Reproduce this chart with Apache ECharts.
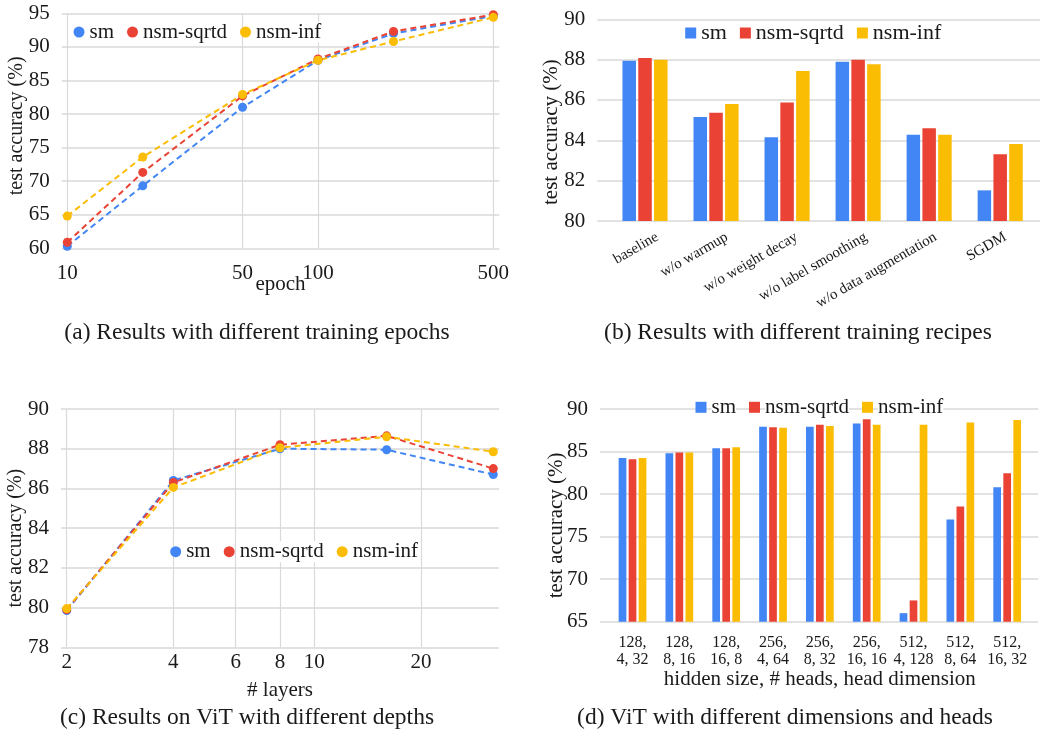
<!DOCTYPE html>
<html lang="en">
<head>
    <meta charset="UTF-8">
    <title>softmax variants</title>
    <script src="https://cdn.jsdelivr.net/npm/echarts@6/dist/echarts.min.js"></script>
    <style>
        html, body {margin: 0; padding: 0; background: #fff;}
        #main {width: 1040px; height: 742px;}
    </style>
</head>
<body>
<div id="main"></div>
<script type="text/javascript">
    // (a) epochs
    var epochs = [10, 20, 50, 100, 200, 500];
    var epochSm = [60.3, 69.3, 81.0, 88.0, 92.0, 94.6];
    var epochSqrtd = [60.9, 71.3, 82.7, 88.2, 92.3, 94.8];
    var epochInf = [64.8, 73.6, 82.9, 88.0, 90.8, 94.4];
    var epochTicks = [10, 50, 100, 500];

    // (b) recipes
    var recipes = ['baseline', 'w/o warmup', 'w/o weight decay', 'w/o label smoothing', 'w/o data augmentation', 'SGDM'];
    var recipeSm = [87.95, 85.15, 84.15, 87.9, 84.28, 81.52];
    var recipeSqrtd = [88.08, 85.37, 85.88, 88.0, 84.6, 83.31];
    var recipeInf = [88.0, 85.8, 87.44, 87.77, 84.28, 83.82];

    // (c) depth
    var layers = [2, 4, 8, 16, 32];
    var layerSm = [79.85, 86.4, 88.0, 87.95, 86.7];
    var layerSqrtd = [79.9, 86.3, 88.2, 88.65, 87.0];
    var layerInf = [79.95, 86.05, 88.05, 88.6, 87.85];
    var layerTicks = [2, 4, 6, 8, 10, 20];

    // (d) dims / heads
    var dims = ['128,\n4, 32', '128,\n8, 16', '128,\n16, 8', '256,\n4, 64', '256,\n8, 32', '256,\n16, 16', '512,\n4, 128', '512,\n8, 64', '512,\n16, 32'];
    var dimSm = [84.25, 84.8, 85.4, 87.9, 87.9, 88.3, 66.0, 77.0, 80.8];
    var dimSqrtd = [84.1, 84.9, 85.4, 87.85, 88.15, 88.8, 67.5, 78.55, 82.45];
    var dimInf = [84.25, 84.9, 85.5, 87.8, 88.0, 88.15, 88.15, 88.4, 88.7];

    var names = ['sm', 'nsm-sqrtd', 'nsm-inf'];
    var colors = ['#4285F4', '#EA4335', '#FBBC04'];
    var serif = 'Liberation Serif';
    var ink = '#1a1a1a';
    var gridColor = '#d9d9d9';

    function pairs(xs, ys) {
        return xs.map(function (x, i) { return [x, ys[i]]; });
    }

    function lineSeries(name, i, xs, ys, xi, yi) {
        return {
            name: name, type: 'line', xAxisIndex: xi, yAxisIndex: yi,
            data: pairs(xs, ys), symbol: 'circle', symbolSize: 9,
            itemStyle: {color: colors[i]},
            lineStyle: {color: colors[i], width: 2, type: [6, 4]}
        };
    }

    function barSeries(name, i, ys, xi, yi, w, gap) {
        return {
            name: name, type: 'bar', xAxisIndex: xi, yAxisIndex: yi,
            data: ys, barWidth: w, barGap: gap,
            itemStyle: {color: colors[i]}
        };
    }

    function valueY(grid, min, max, step, fs, gap, pad, show) {
        return {
            type: 'value', gridIndex: grid, min: min, max: max, interval: step,
            show: show !== false,
            name: 'test accuracy (%)', nameLocation: 'middle', nameGap: gap, nameMoveOverlap: false,
            nameTextStyle: {fontFamily: serif, fontSize: fs, color: ink, padding: pad},
            axisLine: {show: false}, axisTick: {show: false},
            axisLabel: {fontFamily: serif, fontSize: 21, color: ink, margin: 12},
            splitLine: {lineStyle: {color: gridColor, width: 1.5}}
        };
    }

    // overlay value axis giving log-position ticks at chosen values
    function logTickAxis(grid, min, max, ticks, name, labelMargin, nameGap) {
        var t = ticks.map(Math.log10);
        return {
            type: 'value', gridIndex: grid, position: 'bottom',
            min: Math.log10(min), max: Math.log10(max),
            name: name, nameLocation: 'middle', nameGap: nameGap, nameMoveOverlap: false,
            nameTextStyle: {fontFamily: serif, fontSize: 21, color: ink},
            axisLine: {show: false},
            axisTick: {show: false, customValues: t},
            axisLabel: {customValues: t, fontFamily: serif, fontSize: 21, color: ink, margin: labelMargin,
                formatter: function (v) { return String(Math.round(Math.pow(10, v))); }},
            splitLine: {show: true, lineStyle: {color: gridColor, width: 1.2}}
        };
    }

    function legend(left, top, icon, fs, size) {
        return {
            left: left, top: top, padding: 0, icon: icon, itemWidth: size, itemHeight: size, itemGap: 13,
            data: names, selectedMode: false,
            textStyle: {fontFamily: serif, fontSize: fs, color: ink, backgroundColor: '#fff'}
        };
    }

    var capFont = '23.5px "Liberation Serif"';

    var myChart = echarts.init(document.getElementById('main'));
    var option = {
        animation: false,
        backgroundColor: '#fff',
        grid: [
            {left: 61.7, right: 540.7, top: 13.3, bottom: 493.7},
            {left: 597.3, right: 0, top: 19.3, bottom: 521},
            {left: 609.5, width: 426.2, top: 19.3, bottom: 521},
            {left: 61, right: 541, top: 409, bottom: 94.7},
            {left: 600, right: 1.7, top: 409, bottom: 120.3},
            {left: 609.1, right: 9.4, top: 409, bottom: 120.3},
            {left: 622.5, width: 426.2, top: 19.3, bottom: 521}
        ],
        xAxis: [
            {type: 'log', gridIndex: 0, min: 9.5, max: 528.4, show: false, position: 'top'},
            logTickAxis(0, 9.5, 528.4, epochTicks, 'epoch', 14.5, 26),
            {type: 'value', gridIndex: 1, show: false},
            {type: 'category', gridIndex: 2, data: recipes,
                axisLine: {show: false}, axisTick: {show: false}, axisLabel: {show: false}},
            {type: 'log', gridIndex: 3, min: 1.927, max: 33.21, show: false, position: 'top'},
            logTickAxis(3, 1.927, 33.21, layerTicks, '# layers', 5, 33),
            {type: 'value', gridIndex: 4, show: false},
            {type: 'category', gridIndex: 5, data: dims,
                name: 'hidden size, # heads, head dimension', nameLocation: 'middle', nameGap: 47, nameMoveOverlap: false,
                nameTextStyle: {fontFamily: serif, fontSize: 21, color: ink},
                axisLine: {show: false}, axisTick: {show: false},
                axisLabel: {interval: 0, fontFamily: serif, fontSize: 16, lineHeight: 17.7, color: ink, margin: 12}},
            // rotated recipe labels, nudged to sit like the reference
            {type: 'category', gridIndex: 6, data: recipes,
                axisLine: {show: false}, axisTick: {show: false},
                axisLabel: {interval: 0, rotate: 30, fontFamily: serif, fontSize: 15, color: ink, margin: 15}}
        ],
        yAxis: [
            valueY(0, 60, 95, 5, 20, 35, [0, 0, 0, 10]),
            valueY(1, 80, 90, 2, 21, 35, [0, 24, 0, 0]),
            valueY(2, 80, 90, 2, 21, 35, [0, 0, 0, 0], false),
            valueY(3, 78, 90, 2, 20, 35, [0, 20, 0, 0]),
            valueY(4, 65, 90, 5, 21, 33, [0, 20, 0, 0]),
            valueY(5, 65, 90, 5, 21, 33, [0, 0, 0, 0], false),
            {type: 'value', gridIndex: 6, min: 80, max: 90, show: false}
        ],
        legend: [
            legend(73.5, 21.5, 'circle', 21, 11),
            legend(685.2, 22, 'rect', 22, 11),
            legend(170.2, 541.2, 'circle', 21, 11),
            legend(695.5, 396.8, 'rect', 21, 11)
        ],
        series: [
            lineSeries(names[0], 0, epochs, epochSm, 0, 0),
            lineSeries(names[1], 1, epochs, epochSqrtd, 0, 0),
            lineSeries(names[2], 2, epochs, epochInf, 0, 0),
            barSeries(names[0], 0, recipeSm, 3, 2, 13.5, '17%'),
            barSeries(names[1], 1, recipeSqrtd, 3, 2, 13.5, '17%'),
            barSeries(names[2], 2, recipeInf, 3, 2, 13.5, '17%'),
            lineSeries(names[0], 0, layers, layerSm, 4, 3),
            lineSeries(names[1], 1, layers, layerSqrtd, 4, 3),
            lineSeries(names[2], 2, layers, layerInf, 4, 3),
            barSeries(names[0], 0, dimSm, 7, 5, 7.7, '30%'),
            barSeries(names[1], 1, dimSqrtd, 7, 5, 7.7, '30%'),
            barSeries(names[2], 2, dimInf, 7, 5, 7.7, '30%')
        ],
        graphic: [
            {type: 'text', x: 257, y: 333, style: {text: '(a) Results with different training epochs', font: capFont, fill: ink, align: 'center', verticalAlign: 'middle'}},
            {type: 'text', x: 798, y: 333, style: {text: '(b) Results with different training recipes', font: capFont, fill: ink, align: 'center', verticalAlign: 'middle'}},
            {type: 'text', x: 247, y: 718, style: {text: '(c) Results on ViT with different depths', font: capFont, fill: ink, align: 'center', verticalAlign: 'middle'}},
            {type: 'text', x: 785, y: 718, style: {text: '(d) ViT with different dimensions and heads', font: capFont, fill: ink, align: 'center', verticalAlign: 'middle'}}
        ]
    };
    myChart.setOption(option);
</script>
</body>
</html>
